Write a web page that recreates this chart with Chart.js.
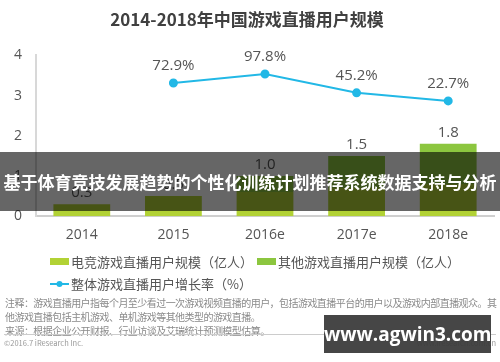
<!DOCTYPE html>
<html>
<head>
<meta charset="utf-8">
<script src="https://cdn.jsdelivr.net/npm/chart.js@4/dist/chart.umd.min.js"></script>
<style>
  body { margin: 0; background: #fff; font-family: "Noto Sans CJK SC", "Noto Sans", sans-serif; }
  #wrap { position: relative; width: 500px; height: 362px; overflow: hidden; }
  #box { position: absolute; left: 0; top: 0; width: 500px; height: 253px; }
  .legend { position: absolute; left: 50px; font-size: 13px; color: #555; white-space: nowrap; }
  .legend span.sw { display: inline-block; width: 19px; height: 7px; margin-right: 2px; vertical-align: 2px; }
  .legend .item { display: inline-block; margin-right: 4px; }
  .notes { position: absolute; left: 5px; top: 296px; width: 494px; font-size: 10px; letter-spacing: -0.55px; line-height: 14px; color: #8a8a8a; }
  .foot { position: absolute; left: 4px; top: 334px; width: 492px; border-top: 1px solid #ccc; font-size: 7.5px; color: #999; padding-top: 2px; }
  .banner { position: absolute; left: 0; top: 152px; width: 500px; height: 59px; background: rgba(0,0,0,0.6);
    color: #fff; font-weight: bold; font-size: 17px; line-height: 59px; text-align: center; white-space: nowrap; }
  .mark { position: absolute; left: 324px; top: 315px; width: 167px; height: 38px; background: rgba(60,60,60,0.95);
    color: #fff; font-weight: bold; font-size: 19px; line-height: 38px; text-align: center; font-family: "Open Sans", sans-serif; }
</style>
</head>
<body>
<div id="wrap">
  <div id="box"><canvas id="gameChart"></canvas></div>
  <div class="legend" id="legend1" style="top:252px"></div>
  <div class="legend" id="legend2" style="top:274px"></div>
  <div class="notes">注释：游戏直播用户指每个月至少看过一次游戏视频直播的用户，包括游戏直播平台的用户以及游戏内部直播观众。其他游戏直播包括主机游戏、单机游戏等其他类型的游戏直播。<br>来源：根据企业公开财报、行业访谈及艾瑞统计预测模型估算。</div>
  <div class="foot">©2016.7 iResearch Inc.<span style="float:right">www.iresearch.com.cn</span></div>
  <div class="banner">基于体育竞技发展趋势的个性化训练计划推荐系统数据支持与分析</div>
  <div class="mark">www.agwin3.com</div>
</div>
<script>
let years = ['2014', '2015', '2016e', '2017e', '2018e'];
let esportsUsers = [0.3, 0.5, 0.6, 0.7, 0.8];
let otherUsers = [0, 0, 0.4, 0.8, 1.0];
let growthRate = [null, 72.9, 97.8, 45.2, 22.7];
let yTicks = [0, 1, 2, 3, 4];
let seriesNames = ['电竞游戏直播用户规模（亿人）', '其他游戏直播用户规模（亿人）', '整体游戏直播用户增长率（%）'];
let colorHex = ['#b2d235', '#8cc63f', '#22b8e6'];

// totals above the bars and percentages above the line points
let valueLabels = {
  id: 'valueLabels',
  afterDatasetsDraw(chart) {
    let c = chart.ctx;
    c.save();
    c.fillStyle = '#555';
    c.font = '15px "Open Sans", "Noto Sans", sans-serif';
    c.textAlign = 'center';
    c.textBaseline = 'bottom';
    let top = chart.getDatasetMeta(1).data;
    top.forEach((bar, i) => {
      let total = esportsUsers[i] + otherUsers[i];
      c.fillText(total.toFixed(1), bar.x, bar.y - 4);
    });
    chart.getDatasetMeta(2).data.forEach((pt, i) => {
      if (growthRate[i] == null) return;
      c.fillText(growthRate[i].toFixed(1) + '%', pt.x, pt.y - 10);
    });
    c.restore();
  }
};

let ctx = document.getElementById('gameChart').getContext('2d');
// eslint-disable-next-line no-unused-vars
let gameChart = new Chart(ctx, {
  data: {
    labels: years,
    datasets: [{
      type: 'bar',
      label: seriesNames[0],
      data: esportsUsers,
      backgroundColor: colorHex[0],
      stack: 'users',
      yAxisID: 'y',
      barPercentage: 0.62,
      categoryPercentage: 1,
      order: 2
    }, {
      type: 'bar',
      label: seriesNames[1],
      data: otherUsers,
      backgroundColor: colorHex[1],
      stack: 'users',
      yAxisID: 'y',
      barPercentage: 0.62,
      categoryPercentage: 1,
      order: 2
    }, {
      type: 'line',
      label: seriesNames[2],
      data: growthRate,
      borderColor: colorHex[2],
      backgroundColor: colorHex[2],
      borderWidth: 2,
      pointRadius: 3.5,
      yAxisID: 'y2',
      order: 1
    }]
  },
  options: {
    responsive: true,
    maintainAspectRatio: false,
    animation: false,
    layout: { padding: { left: 0, right: 6, top: 0, bottom: 0 } },
    plugins: {
      legend: { display: false },
      tooltip: { enabled: false },
      title: {
        display: true,
        text: '2014-2018年中国游戏直播用户规模',
        color: '#404040',
        font: { family: '"Noto Sans CJK SC"', size: 17, weight: 'bold' },
        padding: { top: 9, bottom: 26 }
      }
    },
    scales: {
      x: {
        stacked: true,
        grid: { display: false, drawTicks: false },
        border: { color: '#cfcfcf', width: 2 },
        ticks: { color: '#555', font: { family: '"Open Sans"', size: 14 }, padding: 10 }
      },
      y: {
        stacked: true,
        min: 0,
        max: 4,
        afterBuildTicks: (axis) => { axis.ticks = yTicks.map(v => ({ value: v })); },
        grid: { display: false, drawTicks: false },
        border: { color: '#d8d8d8', width: 2 },
        ticks: { color: '#555', font: { family: '"Open Sans"', size: 14 }, padding: 14 }
      },
      y2: {
        position: 'right',
        display: false,
        min: -300,
        max: 150
      }
    }
  },
  plugins: [valueLabels]
});

// legend rows built from the dataset names
document.getElementById('legend1').innerHTML =
  '<span class="item"><span class="sw" style="background:' + colorHex[0] + '"></span>' + seriesNames[0] + '</span>' +
  '<span class="item"><span class="sw" style="background:' + colorHex[1] + '"></span>' + seriesNames[1] + '</span>';
document.getElementById('legend2').innerHTML =
  '<span class="item"><svg width="19" height="8" style="margin-right:2px;vertical-align:1px"><line x1="0" y1="4" x2="19" y2="4" stroke="' + colorHex[2] + '" stroke-width="2"/><circle cx="9.5" cy="4" r="3" fill="' + colorHex[2] + '"/></svg>' + seriesNames[2] + '</span>';
</script>
</body>
</html>
